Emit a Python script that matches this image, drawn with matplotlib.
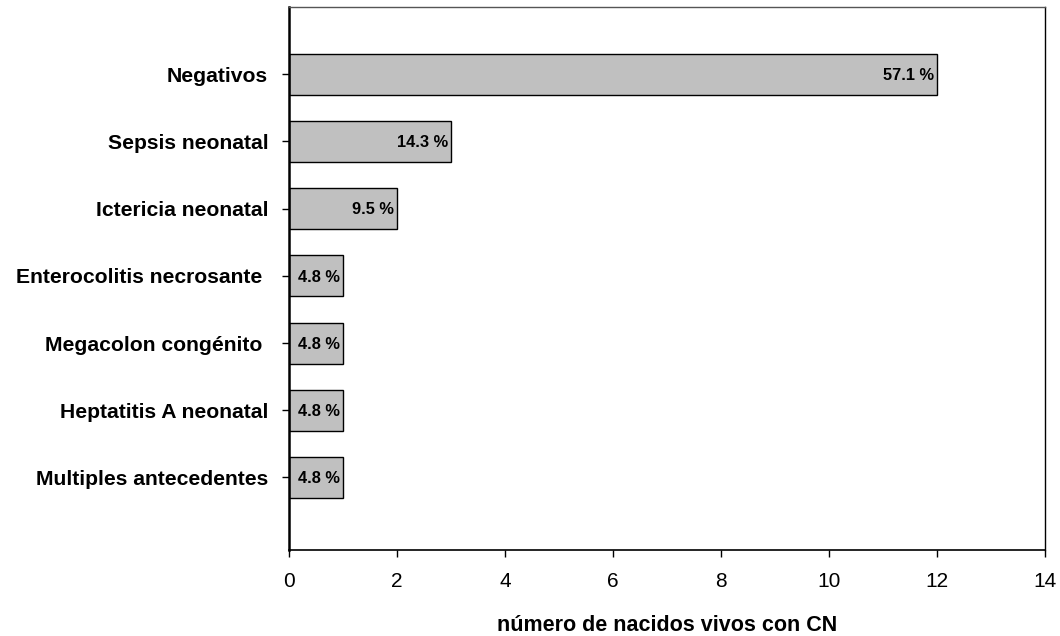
import matplotlib
matplotlib.use("Agg")
import matplotlib.pyplot as plt

categories = [
    "Negativos",
    "Sepsis neonatal",
    "Ictericia neonatal",
    "Enterocolitis necrosante ",
    "Megacolon congénito ",
    "Heptatitis A neonatal",
    "Multiples antecedentes",
]
counts = [12, 3, 2, 1, 1, 1, 1]
percent_labels = ["57.1 %", "14.3 %", "9.5 %", "4.8 %", "4.8 %", "4.8 %", "4.8 %"]
x_ticks = [0, 2, 4, 6, 8, 10, 12, 14]

plt.rcParams["font.family"] = ["Liberation Sans", "DejaVu Sans"]

fig = plt.figure(figsize=(10.6, 6.36), dpi=100)
ax = fig.add_axes([289 / 1060, 1 - 550 / 636, (1045 - 289) / 1060, (550 - 7) / 636])

pos = list(range(len(categories)))
bars = ax.barh(pos, counts, height=0.61, color="#c0c0c0", edgecolor="black", linewidth=1.0)

for rect, lab in zip(bars, percent_labels):
    ax.annotate(lab, xy=(rect.get_width(), rect.get_y() + rect.get_height() / 2),
                xytext=(-2, -1), textcoords="offset points",
                ha="right", va="center", fontsize=11.8, fontweight="bold")

ax.set_xlim(0, 14)
ax.set_ylim(7.08, -1.0)
ax.set_xticks(x_ticks)
ax.set_xticklabels([str(t) for t in x_ticks], fontsize=15)
ax.set_yticks(pos)
ax.set_yticklabels(categories, fontsize=15.2, fontweight="bold")
ax.tick_params(axis="y", length=5, width=1, pad=10, direction="out")
ax.tick_params(axis="x", length=5, width=1, pad=11, direction="out")

ax.spines["left"].set_linewidth(1.8)
ax.spines["bottom"].set_linewidth(1.2)
ax.spines["right"].set_linewidth(1.0)
ax.spines["top"].set_linewidth(1.0)
ax.spines["top"].set_color("#555555")

ax.set_xlabel("número de nacidos vivos con CN", fontsize=15.5, fontweight="bold", labelpad=17)

fig.savefig("out.png", dpi=100)
